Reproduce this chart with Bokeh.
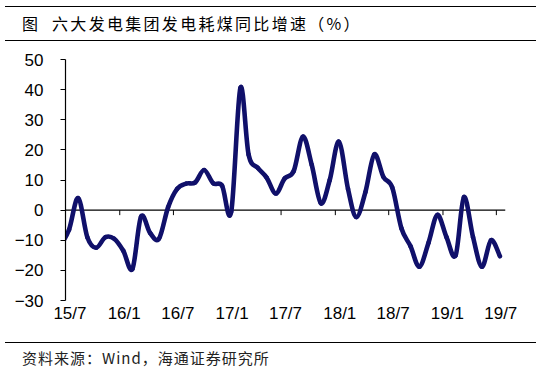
import numpy as np
import pandas as pd
from bokeh.plotting import figure
from bokeh.layouts import column
from bokeh.models import Range1d, FixedTicker, CustomJSTickFormatter, Span, Div
from bokeh.embed import file_html
from bokeh.resources import INLINE

# ---------------- data ----------------
title_text = "图  六大发电集团发电耗煤同比增速（%）"
source_text = "资料来源：Wind，海通证券研究所"

y_ticks = [-30, -20, -10, 0, 10, 20, 30, 40, 50]
tick_dates = ["2015-07-01", "2016-01-01", "2016-07-01", "2017-01-01", "2017-07-01",
              "2018-01-01", "2018-07-01", "2019-01-01", "2019-07-01"]
x_start, x_end = "2015-07-01", "2019-08-01"

# monthly year-on-year growth of coal consumption (%), 2015/6 .. 2019/7
growth = [-12.0,                                            # 2015/6
          -6.5, 4.0, -9.0, -12.5, -9.0, -9.5,               # 2015/7-12
          -13.5, -19.5, -2.2, -7.6, -9.5, 1.0,              # 2016/1-6
          7.0, 8.8, 9.2, 13.3, 8.9, 8.1,                    # 2016/7-12
          -0.5, 40.6, 18.4, 14.0, 10.8, 5.5,                # 2017/1-6
          10.5, 13.0, 24.4, 15.0, 2.3, 10.0,                # 2017/7-12
          22.7, 7.0, -2.3, 6.0, 18.5, 11.0,                 # 2018/1-6
          7.5, -6.0, -12.0, -18.8, -10.8, -1.6,             # 2018/7-12
          -9.0, -15.0, 4.3, -9.0, -18.8, -10.0,             # 2019/1-6
          -15.3]                                            # 2019/7
months = pd.date_range("2015-06-01", periods=len(growth), freq="MS")


def to_ms(d):
    return pd.DatetimeIndex(pd.to_datetime(d)).values.astype("datetime64[ms]").astype("int64").astype(float)


W = 531
TOP_H, MAIN_H, BOT_H = 39, 283, 30
NAVY = "#10106a"

# ---------------- header (title + rules) ----------------
rule_css = "position:absolute;left:0;width:%dpx;height:0;border-top:1.6px solid #000;" % W
header_html = (
    '<div style="%stop:1px;"></div>' % rule_css
    + '<div style="position:absolute;left:17px;top:7px;white-space:pre;'
      "font-family:'Noto Sans CJK SC';font-size:16px;line-height:22px;"
      'letter-spacing:2.3px;color:#000;">%s</div>' % title_text
    + '<div style="%stop:35px;"></div>' % rule_css
)
top = Div(text=header_html, width=W, height=TOP_H, styles={"overflow": "visible"})

# ---------------- main chart ----------------
p = figure(width=W, height=MAIN_H, x_axis_type="datetime", output_backend="svg",
           toolbar_location=None,
           x_range=Range1d(to_ms([x_start])[0], to_ms([x_end])[0]),
           y_range=Range1d(-30, 50),
           min_border_left=65, min_border_right=W - 505, min_border_top=10,
           min_border_bottom=32)
p.grid.visible = False
p.outline_line_color = None
p.background_fill_color = "white"
p.border_fill_color = "white"

x = to_ms(months + pd.Timedelta(days=12))
y = np.asarray(growth, dtype=float)
xp = np.r_[x[0], x, x[-1]]
yp = np.r_[y[0], y, y[-1]]
n = len(x)
cx0 = x[:-1] + (x[1:] - xp[:n - 1]) / 6.0
cy0 = y[:-1] + (y[1:] - yp[:n - 1]) / 6.0
cx1 = x[1:] - (xp[3:n + 2] - x[:-1]) / 6.0
cy1 = y[1:] - (yp[3:n + 2] - y[:-1]) / 6.0

p.add_layout(Span(location=0, dimension="width", line_color="black", line_width=1.2,
                  level="underlay"))
tick_ms = to_ms(tick_dates)
p.ray(x=tick_ms, y=np.zeros(len(tick_ms)), length=5, length_units="screen",
      angle=-np.pi / 2, line_color="black", line_width=1)

p.bezier(x0=x[:-1], y0=y[:-1], x1=x[1:], y1=y[1:], cx0=cx0, cy0=cy0, cx1=cx1, cy1=cy1,
         line_color=NAVY, line_width=4.6, line_cap="round")

ya = p.yaxis[0]
ya.ticker = FixedTicker(ticks=y_ticks)
ya.major_label_text_font = "Liberation Sans"
ya.major_label_text_font_size = "17px"
ya.major_label_text_color = "black"
ya.major_label_standoff = 17
ya.major_tick_in = 0
ya.major_tick_out = 5
ya.major_tick_line_color = "black"
ya.minor_tick_line_color = None
ya.axis_line_color = "black"
ya.axis_line_width = 1.2

# labels sit in the middle of their month, as in the source chart
label_ms = to_ms(pd.to_datetime(tick_dates) + pd.Timedelta(days=15))
xa = p.xaxis[0]
xa.ticker = FixedTicker(ticks=list(label_ms))
xa.formatter = CustomJSTickFormatter(code="""
const d = new Date(tick);
return String(d.getUTCFullYear() % 100) + '/' + String(d.getUTCMonth() + 1);
""")
xa.major_label_text_font = "Liberation Sans"
xa.major_label_text_font_size = "17px"
xa.major_label_text_color = "black"
xa.major_label_standoff = -3
xa.axis_line_color = None
xa.major_tick_line_color = None
xa.minor_tick_line_color = None

# ---------------- footer (rule + source) ----------------
footer_html = (
    '<div style="%stop:5px;"></div>' % rule_css
    + '<div style="position:absolute;left:17px;top:13px;white-space:pre;'
      "font-family:'Noto Sans CJK SC';font-size:15px;line-height:16px;"
      'letter-spacing:1px;color:#222;">%s</div>' % source_text
)
bot = Div(text=footer_html, width=W, height=BOT_H, styles={"overflow": "visible"})

layout = column(top, p, bot, spacing=0)
open("out.html", "w").write(file_html(layout, INLINE))
